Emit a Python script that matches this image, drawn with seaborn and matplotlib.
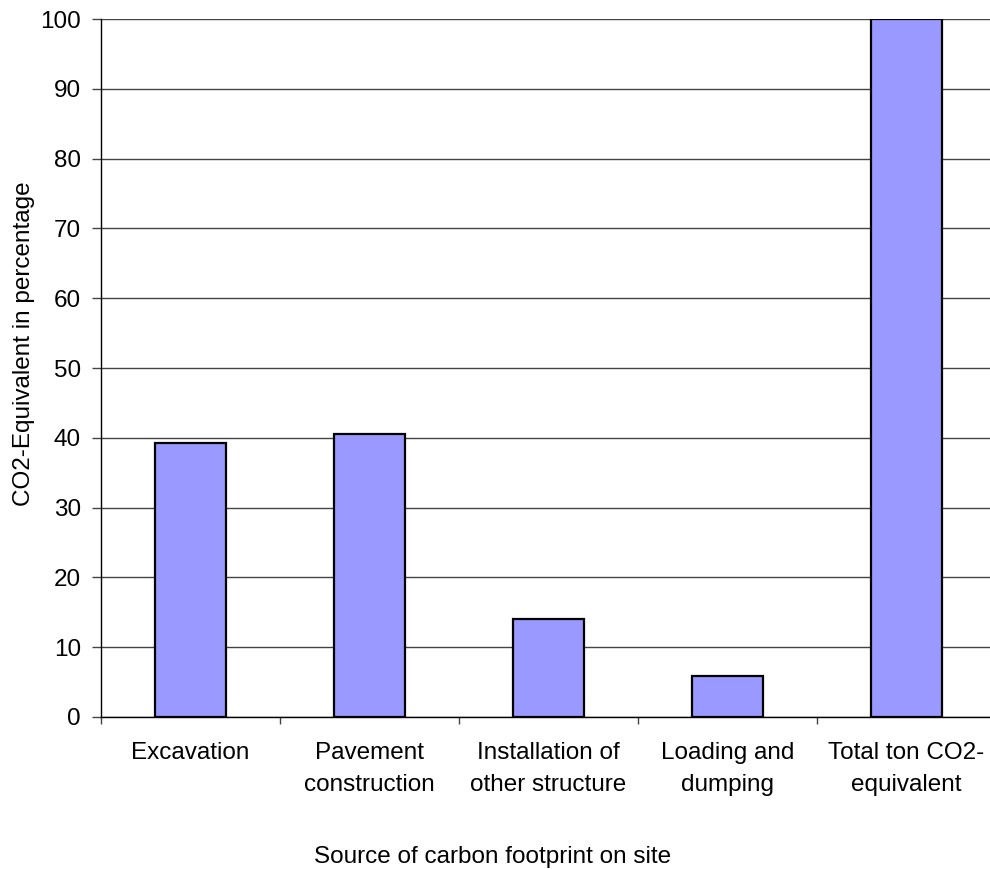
import matplotlib
matplotlib.use("Agg")
import matplotlib.pyplot as plt
import seaborn as sns
import pandas as pd
import numpy as np

categories = ["Excavation", "Pavement\nconstruction", "Installation of\nother structure",
              "Loading and\ndumping", "Total ton CO2-\nequivalent"]
values = [39.3, 40.6, 14.0, 5.8, 100.0]
y_ticks = [0, 10, 20, 30, 40, 50, 60, 70, 80, 90, 100]

sns.set_theme(style="white")
plt.rcParams["font.family"] = ["Liberation Sans", "DejaVu Sans"]
plt.rcParams["text.color"] = "black"
plt.rcParams["xtick.color"] = "black"
plt.rcParams["ytick.color"] = "black"
plt.rcParams["axes.labelcolor"] = "black"

FS = 17.5

df = pd.DataFrame({"source": categories, "value": values})

fig = plt.figure(figsize=(9.9, 8.69), dpi=100)
ax = fig.add_axes([0.102, 0.175, 0.904, 0.803])

ax.set_ylim(0, 100)
ax.set_yticks(y_ticks)
ax.yaxis.grid(True, color="#444444", linewidth=1.0)
ax.set_axisbelow(True)

sns.barplot(data=df, x="source", y="value", ax=ax, width=0.4,
            color="#9999FF", saturation=1, edgecolor="black", linewidth=1.6)

ax.set_xlim(-0.5, len(categories) - 0.5)
ax.set_xticks(np.arange(-0.5, len(categories), 1.0), minor=True)
ax.tick_params(axis="x", which="major", length=0, pad=18, labelsize=FS)
ax.tick_params(axis="x", which="minor", length=5, width=1, color="#444444",
               direction="out", bottom=True)
ax.tick_params(axis="y", length=6.5, width=1, color="#444444", direction="out",
               left=True, labelsize=FS, pad=8)
for lbl in ax.get_xticklabels():
    lbl.set_linespacing(1.6)

for s in ["top", "right"]:
    ax.spines[s].set_visible(False)
for s in ["left", "bottom"]:
    ax.spines[s].set_color("black")
    ax.spines[s].set_linewidth(1.0)

ax.set_xlabel("")
ax.set_ylabel("")
fig.text(493 / 990, 6 / 869, "Source of carbon footprint on site", fontsize=FS,
         ha="center", va="baseline")
fig.text(24 / 990, 1 - 344 / 869, "CO2-Equivalent in percentage", fontsize=FS,
         rotation=90, ha="center", va="center")

fig.savefig("out.png", dpi=100)
